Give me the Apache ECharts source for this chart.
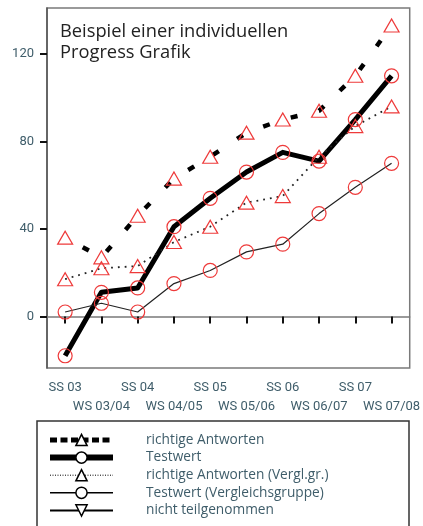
<!DOCTYPE html>
<html>
<head>
<meta charset="utf-8">
<script src="https://cdn.jsdelivr.net/npm/echarts@6/dist/echarts.min.js"></script>
<style>
html,body{margin:0;padding:0;background:#fff;}
#chart{width:423px;height:526px;}
</style>
</head>
<body>
<div id="chart"></div>
<script>
const categories = ['SS 03','WS 03/04','SS 04','WS 04/05','SS 05','WS 05/06','SS 06','WS 06/07','SS 07','WS 07/08'];
const richtigeAntworten = [36, 27, 46, 63, 73, 84, 90, 94, 110, 133];
const testwert = [-18, 11, 13, 41, 54, 66, 75, 71, 90, 110];
const richtigeVergl = [17, 22, 23, 34, 41, 52, 55, 73, 87, 96];
const testwertVergl = [2, 6, 2, 15, 21, 29.5, 33, 47, 59, 70];
const yTicks = [0, 40, 80, 120];
const seriesNames = ['richtige Antworten', 'Testwert', 'richtige Antworten (Vergl.gr.)', 'Testwert (Vergleichsgruppe)', 'nicht teilgenommen'];
const titleText = 'Beispiel einer individuellen\nProgress Grafik';

const RED = '#ee3a3a';
const FONT = 'Roboto';
const TEXT_FONT = 'Open Sans';
const LABEL_COLOR = '#3f5d6a';

const chart = echarts.init(document.getElementById('chart'));
const markerStyle = { color: 'rgba(255,255,255,0)', borderColor: RED, borderWidth: 1.2 };

chart.setOption({
  animation: false,
  title: {
    text: titleText,
    left: 55, top: 16,
    textStyle: { fontFamily: TEXT_FONT, fontSize: 18.3, fontWeight: 'normal', color: '#222', lineHeight: 21.5 }
  },
  grid: { left: 47, right: 11, top: 8, bottom: 158, show: true, borderColor: '#7a7a7a', borderWidth: 1.5 },
  xAxis: {
    type: 'category',
    data: categories,
    boundaryGap: true,
    axisLine: { show: true, lineStyle: { color: '#7a7a7a', width: 1.5 } },
    axisTick: { show: true, alignWithLabel: true, interval: 0, length: 7, lineStyle: { color: '#111', width: 2 } },
    axisLabel: {
      interval: 0, margin: 10, color: LABEL_COLOR, fontFamily: FONT, fontSize: 13, lineHeight: 19,
      formatter: (v, i) => (i % 2 ? '\n' + v : v)
    },
    splitLine: { show: false }
  },
  yAxis: {
    type: 'value',
    min: -23.6, max: 141,
    axisLine: { show: true, lineStyle: { color: '#555', width: 1.5 } },
    axisTick: { show: true, customValues: yTicks, length: 7, lineStyle: { color: '#111', width: 2 } },
    axisLabel: { customValues: yTicks, margin: 13, color: LABEL_COLOR, fontFamily: FONT, fontSize: 13 },
    splitLine: { show: false }
  },
  legend: {
    orient: 'vertical',
    left: 47, top: 433, padding: 0,
    itemWidth: 63, itemHeight: 14, itemGap: 3.6,
    selectedMode: false,
    textStyle: { color: LABEL_COLOR, fontFamily: TEXT_FONT, fontSize: 13.7, lineHeight: 14, padding: [0, 0, 0, 28] },
    itemStyle: { color: '#fff', borderColor: '#000', borderWidth: 1.5 },
    data: [
      { name: seriesNames[0], lineStyle: { color: '#000', width: 5, type: [7, 3.5], dashOffset: 0, cap: 'butt' } },
      { name: seriesNames[1], lineStyle: { color: '#000', width: 6, type: 'solid', cap: 'butt' } },
      { name: seriesNames[2], lineStyle: { color: '#000', width: 1, type: [1, 1.5], cap: 'butt' } },
      { name: seriesNames[3], lineStyle: { color: '#000', width: 1.5, type: 'solid', cap: 'butt' } },
      { name: seriesNames[4], lineStyle: { color: '#000', width: 2, type: 'solid', cap: 'butt' } }
    ]
  },
  graphic: [{
    type: 'rect', silent: true,
    shape: { x: 37, y: 421, width: 372, height: 110 },
    style: { fill: 'none', stroke: '#333', lineWidth: 1.5 }
  }],
  series: [
    {
      name: seriesNames[0], type: 'line', data: richtigeAntworten,
      symbol: 'triangle', symbolSize: [15, 13],
      lineStyle: { color: '#000', width: 4.5, type: [7, 22], dashOffset: 9, cap: 'butt' },
      itemStyle: markerStyle, z: 2
    },
    {
      name: seriesNames[1], type: 'line', data: testwert,
      symbol: 'circle', symbolSize: 14,
      lineStyle: { color: '#000', width: 5, cap: 'butt', join: 'round' },
      itemStyle: markerStyle, z: 2
    },
    {
      name: seriesNames[2], type: 'line', data: richtigeVergl,
      symbol: 'triangle', symbolSize: [15, 13],
      lineStyle: { color: '#222', width: 1.8, type: [1.8, 5], cap: 'butt' },
      itemStyle: markerStyle, z: 2
    },
    {
      name: seriesNames[3], type: 'line', data: testwertVergl,
      symbol: 'circle', symbolSize: 14,
      lineStyle: { color: '#222', width: 1.2 },
      itemStyle: markerStyle, z: 2
    },
    {
      name: seriesNames[4], type: 'line', data: [],
      symbol: 'triangle', symbolRotate: 180, symbolSize: [15, 13],
      lineStyle: { color: '#000', width: 2 },
      itemStyle: markerStyle, z: 2
    }
  ]
});
</script>
</body>
</html>
